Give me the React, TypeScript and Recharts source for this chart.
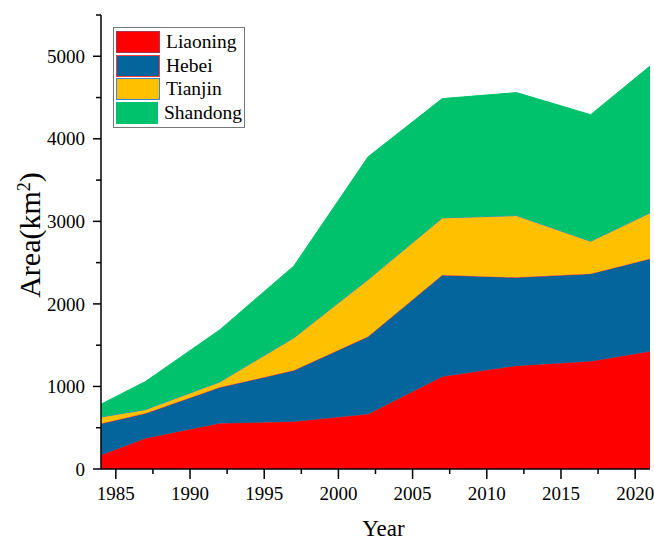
import React from 'react';
import { AreaChart, Area, XAxis, YAxis, Legend } from 'recharts';

// Coastal reclamation area (km2) by province
const years = [1984, 1987, 1992, 1997, 2002, 2007, 2012, 2017, 2021];
const liaoning = [170, 372, 555, 575, 665, 1120, 1252, 1305, 1425];
const hebei = [380, 303, 435, 620, 940, 1230, 1070, 1061, 1123];
const tianjin = [80, 45, 65, 395, 690, 692, 748, 393, 555];
const shandong = [155, 340, 630, 870, 1487, 1445, 1490, 1533, 1779];

const xTicks = [1985, 1987.5, 1990, 1992.5, 1995, 1997.5, 2000, 2002.5, 2005, 2007.5, 2010, 2012.5, 2015, 2017.5, 2020];
const yTicks = [0, 500, 1000, 1500, 2000, 2500, 3000, 3500, 4000, 4500, 5000, 5500];

const series = [
  { key: 'Liaoning', fill: '#ff0000', stroke: '#a03a4a' },
  { key: 'Hebei', fill: '#03659b', stroke: '#ff3b3b' },
  { key: 'Tianjin', fill: '#ffc000', stroke: '#3b86d8' },
  { key: 'Shandong', fill: '#00c26c', stroke: '#00c26c' },
];

const data = years.map((year, i) => ({
  year,
  Liaoning: liaoning[i],
  Hebei: hebei[i],
  Tianjin: tianjin[i],
  Shandong: shandong[i],
}));

const FONT = '"Liberation Serif", "Times New Roman", Times, serif';
const textStyle = { fontFamily: FONT };

const XTick = (props: any) => {
  const { x, y, payload } = props;
  const major = payload.value % 5 === 0;
  return (
    <g>
      <line x1={x} y1={y} x2={x} y2={y + (major ? 10 : 5)} stroke="#000" strokeWidth={1.5} />
      {major && (
        <text x={x} y={y + 31} textAnchor="middle" fontSize={19} style={textStyle} fill="#000">
          {payload.value}
        </text>
      )}
    </g>
  );
};

const YTick = (props: any) => {
  const { x, y, payload } = props;
  const major = payload.value % 1000 === 0;
  return (
    <g>
      <line x1={x} y1={y} x2={x - (major ? 8 : 5)} y2={y} stroke="#000" strokeWidth={1.5} />
      {major && (
        <text x={x - 16} y={y} dy="0.35em" textAnchor="end" fontSize={19} style={textStyle} fill="#000">
          {payload.value}
        </text>
      )}
    </g>
  );
};

const YTitle = () => (
  <text
    x={40}
    y={235}
    transform="rotate(-90, 40, 235)"
    textAnchor="middle"
    fontSize={30}
    style={textStyle}
    fill="#000"
  >
    Area(km<tspan baselineShift="super" fontSize={18}>2</tspan>)
  </text>
);

const LegendBox = () => (
  <div
    style={{
      border: '1px solid #777',
      background: '#fff',
      padding: 2,
      fontFamily: FONT,
      fontSize: 19.5,
      width: 132,
      boxSizing: 'border-box',
    }}
  >
    {series.map((s) => (
      <div key={s.key} style={{ display: 'flex', alignItems: 'center', height: 23.7 }}>
        <span
          style={{
            display: 'inline-block',
            width: 44,
            height: 22,
            background: s.fill,
            border: `1px solid ${s.stroke}`,
            boxSizing: 'border-box',
            marginRight: 6,
          }}
        />
        <span style={{ color: '#000', lineHeight: '22px' }}>{s.key}</span>
      </div>
    ))}
  </div>
);

export default function App() {
  return (
    <div style={{ position: 'absolute', left: 0, top: 0, width: 654, height: 540, background: '#fff' }}>
      <AreaChart width={654} height={540} data={data} margin={{ top: 15, right: 4, bottom: 0, left: 0 }}>
        <XAxis
          dataKey="year"
          type="number"
          domain={[1984, 2021]}
          ticks={xTicks}
          interval={0}
          height={71}
          tickSize={0}
          tickMargin={0}
          tickLine={false}
          axisLine={{ stroke: '#000', strokeWidth: 1.5 }}
          tick={<XTick />}
          label={{ value: 'Year', position: 'insideBottom', offset: 4, dx: 8, fontSize: 23, style: textStyle, fill: '#000' }}
        />
        <YAxis
          type="number"
          domain={[0, 5500]}
          ticks={yTicks}
          interval={0}
          width={101}
          tickSize={0}
          tickMargin={0}
          tickLine={false}
          axisLine={{ stroke: '#000', strokeWidth: 1.5 }}
          tick={<YTick />}
          label={<YTitle />}
        />
        <Legend
          layout="vertical"
          align="center"
          verticalAlign="middle"
          wrapperStyle={{ left: 113, top: 27, width: 133 }}
          content={() => <LegendBox />}
        />
        {series.map((s) => (
          <Area
            key={s.key}
            type="linear"
            dataKey={s.key}
            stackId="1"
            fill={s.fill}
            fillOpacity={1}
            stroke={s.stroke}
            strokeWidth={1}
            isAnimationActive={false}
          />
        ))}
      </AreaChart>
    </div>
  );
}
